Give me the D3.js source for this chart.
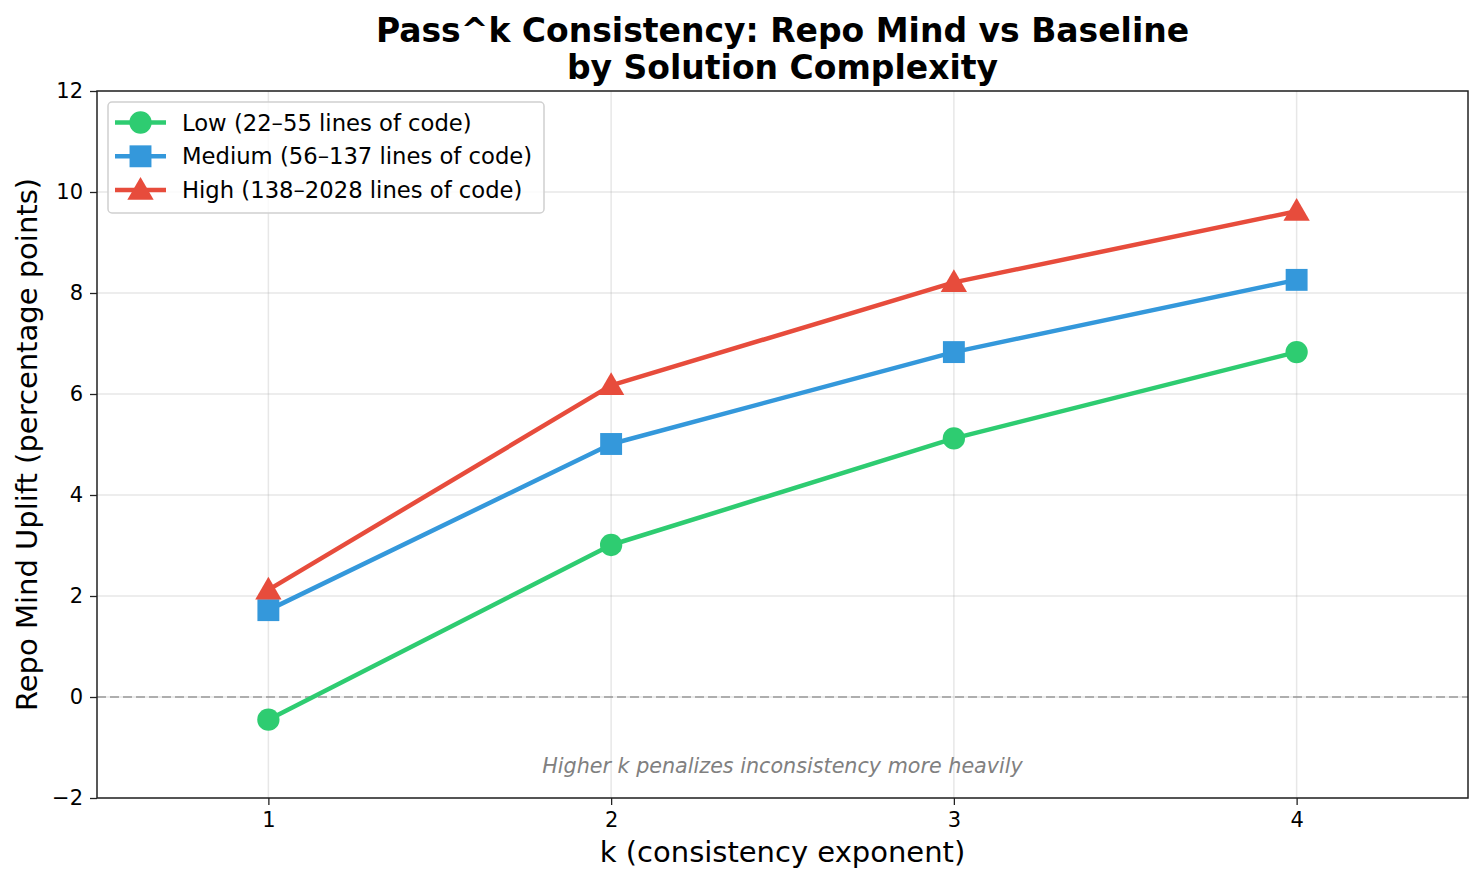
<!DOCTYPE html>
<html>
<head>
<meta charset="utf-8">
<script src="https://cdn.jsdelivr.net/npm/d3@7"></script>
<style>
  body { margin: 0; background: #fff; }
  text { font-family: "DejaVu Sans", sans-serif; }
</style>
</head>
<body>
<script>
const W = 1484, H = 884;
const margin = { top: 91, right: 16, bottom: 86, left: 97 };

const kValues = [1, 2, 3, 4];
const lowUplift = [-0.45, 3.01, 5.12, 6.83];
const mediumUplift = [1.72, 5.01, 6.83, 8.26];
const highUplift = [2.12, 6.17, 8.21, 9.62];
const seriesNames = ['Low (22–55 lines of code)', 'Medium (56–137 lines of code)', 'High (138–2028 lines of code)'];
const seriesColors = ['#2ecc71', '#3498db', '#e74c3c'];
const seriesSymbols = [d3.symbolCircle, d3.symbolSquare, d3.symbolTriangle];
const yTicks = [-2, 0, 2, 4, 6, 8, 10, 12];

const series = [lowUplift, mediumUplift, highUplift].map((vals, i) => ({
  name: seriesNames[i],
  color: seriesColors[i],
  symbol: seriesSymbols[i],
  points: vals.map((v, j) => ({ k: kValues[j], v }))
}));

const svg = d3.select('body').append('svg').attr('width', W).attr('height', H);

const x = d3.scaleLinear().domain([0.5, 4.5]).range([margin.left, W - margin.right]);
const y = d3.scaleLinear().domain([-2, 12]).range([H - margin.bottom, margin.top]);

// grid
const grid = svg.append('g');
grid.selectAll('line.gx').data(kValues).join('line')
  .attr('x1', d => x(d)).attr('x2', d => x(d))
  .attr('y1', y(-2)).attr('y2', y(12))
  .attr('stroke', '#b0b0b0').attr('stroke-opacity', 0.3).attr('stroke-width', 1.5);
grid.selectAll('line.gy').data(yTicks).join('line')
  .attr('y1', d => y(d)).attr('y2', d => y(d))
  .attr('x1', x(0.5)).attr('x2', x(4.5))
  .attr('stroke', '#b0b0b0').attr('stroke-opacity', 0.3).attr('stroke-width', 1.5);

// zero line
svg.append('line')
  .attr('x1', x(0.5)).attr('x2', x(4.5))
  .attr('y1', y(0)).attr('y2', y(0))
  .attr('stroke', '#999').attr('stroke-width', 1.5)
  .attr('stroke-dasharray', '9 4');

// axes
const xAxis = svg.append('g')
  .attr('transform', `translate(0,${y(-2)})`)
  .call(d3.axisBottom(x).tickValues(kValues).tickFormat(d3.format('d')).tickSize(7).tickPadding(7));
const yAxis = svg.append('g')
  .attr('transform', `translate(${x(0.5)},0)`)
  .call(d3.axisLeft(y).tickValues(yTicks).tickFormat(d => d < 0 ? '−' + Math.abs(d) : d).tickSize(7).tickPadding(7));
[xAxis, yAxis].forEach(a => {
  a.attr('font-size', null).attr('font-family', null);
  a.select('.domain').remove();
  a.selectAll('.tick line').attr('stroke', '#222').attr('stroke-width', 1.3);
  a.selectAll('.tick text').style('font-size', '21px').attr('fill', '#000');
});

// frame
svg.append('rect')
  .attr('x', x(0.5)).attr('y', y(12))
  .attr('width', x(4.5) - x(0.5)).attr('height', y(-2) - y(12))
  .attr('fill', 'none').attr('stroke', '#222').attr('stroke-width', 1.5);

// lines & markers
const line = d3.line().x(d => x(d.k)).y(d => y(d.v));
const symbolSize = s => s === d3.symbolTriangle ? 300 : (s === d3.symbolSquare ? 480 : 390);
series.forEach(s => {
  svg.append('path').datum(s.points)
    .attr('d', line)
    .attr('fill', 'none').attr('stroke', s.color).attr('stroke-width', 4.5)
    .attr('stroke-linejoin', 'round');
  svg.append('g').selectAll('path').data(s.points).join('path')
    .attr('transform', d => `translate(${x(d.k)},${y(d.v) + (s.symbol === d3.symbolTriangle ? 2 : 0)})`)
    .attr('d', d3.symbol().type(s.symbol).size(symbolSize(s.symbol)))
    .attr('fill', s.color);
});

// annotation
svg.append('text')
  .attr('x', x(2.5)).attr('y', y(-1.5))
  .attr('text-anchor', 'middle').style('font-size', '20.7px').attr('font-style', 'italic')
  .attr('fill', '#808080')
  .text('Higher k penalizes inconsistency more heavily');

// legend
const legend = svg.append('g').attr('transform', 'translate(108,102)');
legend.append('rect')
  .attr('width', 436).attr('height', 111).attr('rx', 4)
  .attr('fill', '#fff').attr('fill-opacity', 0.8)
  .attr('stroke', '#d0d0d0').attr('stroke-width', 1.5);
const rows = legend.selectAll('g.row').data(series).join('g')
  .attr('transform', (d, i) => `translate(0,${20.5 + i * 33.8})`);
rows.append('line')
  .attr('x1', 7).attr('x2', 58)
  .attr('stroke', d => d.color).attr('stroke-width', 4.5);
rows.append('path')
  .attr('transform', d => `translate(32.5,${d.symbol === d3.symbolTriangle ? 2 : 0})`)
  .attr('d', d => d3.symbol().type(d.symbol).size(symbolSize(d.symbol))())
  .attr('fill', d => d.color);
rows.append('text')
  .attr('x', 74).attr('dy', '0.36em')
  .style('font-size', '22.7px').attr('fill', '#000')
  .text(d => d.name);

// title
svg.append('text')
  .attr('x', x(2.5)).attr('y', 42)
  .attr('text-anchor', 'middle').style('font-size', '33px').attr('font-weight', 'bold')
  .text('Pass^k Consistency: Repo Mind vs Baseline');
svg.append('text')
  .attr('x', x(2.5)).attr('y', 79)
  .attr('text-anchor', 'middle').style('font-size', '33px').attr('font-weight', 'bold')
  .text('by Solution Complexity');

// axis labels
svg.append('text')
  .attr('x', x(2.5)).attr('y', 862)
  .attr('text-anchor', 'middle').style('font-size', '29px')
  .text('k (consistency exponent)');
svg.append('text')
  .attr('transform', `translate(37,${y(5)}) rotate(-90)`)
  .attr('text-anchor', 'middle').style('font-size', '29px')
  .text('Repo Mind Uplift (percentage points)');
</script>
</body>
</html>
